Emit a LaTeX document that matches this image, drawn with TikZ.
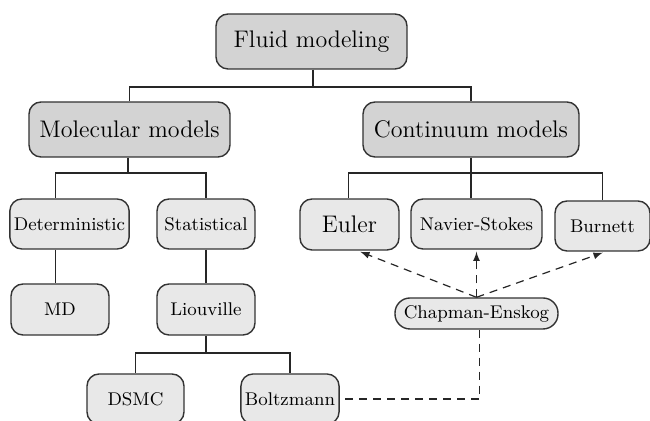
\documentclass[tikz,border=0pt]{standalone}
\usepackage{xcolor}
\usepackage{tikz}

\begin{document}
\begin{tikzpicture}[x = 0.5pt, y = -0.5pt,
  box/.style = {draw = black!80, line width = 0.7pt, rounded corners = 6pt, inner sep = 2pt},
  bigBox/.style = {box, fill = midGray, font = \fontsize{12}{14}\selectfont},
  smallBox/.style = {box, fill = lightGray, font = \fontsize{9.2}{11}\selectfont},
  treeLine/.style = {draw = black!85, line width = 0.6pt},
  dashLine/.style = {draw = black!85, line width = 0.6pt, dash pattern = on 4pt off 3pt}]
  \definecolor{midGray}{RGB}{211, 211, 211};
  \definecolor{lightGray}{RGB}{232, 232, 232};
  \useasboundingbox (0, 0) rectangle (650, 421);

  \node[bigBox, minimum width = 95.5pt, minimum height = 27.5pt] (fluid) at (311.5, 41.5) {Fluid modeling};
  \node[bigBox, minimum width = 100.5pt, minimum height = 27.5pt] (mol) at (129.5, 129.5) {Molecular models};
  \node[bigBox, minimum width = 108pt, minimum height = 27.5pt] (cont) at (471, 129.5) {Continuum models};

  \node[smallBox, minimum width = 59.5pt, minimum height = 25pt] (det) at (69.5, 224) {Deterministic};
  \node[smallBox, minimum width = 49pt, minimum height = 25pt] (stat) at (206, 224) {Statistical};
  \node[smallBox, minimum width = 49pt, minimum height = 25.5pt] (md) at (60, 309.5) {MD};
  \node[smallBox, minimum width = 49pt, minimum height = 25.5pt] (liou) at (206, 309.5) {Liouville};
  \node[smallBox, minimum width = 48.5pt, minimum height = 25pt] (dsmc) at (135.5, 399) {DSMC};
  \node[smallBox, minimum width = 49pt, minimum height = 25pt] (boltz) at (290, 399) {Boltzmann};

  \node[smallBox, font = \fontsize{12}{14}\selectfont, minimum width = 49.5pt, minimum height = 25.5pt] (euler) at (349.5, 224.5) {Euler};
  \node[smallBox, minimum width = 65.5pt, minimum height = 25pt] (ns) at (476.5, 224) {Navier-Stokes};
  \node[smallBox, minimum width = 47.5pt, minimum height = 25pt] (burn) at (602.5, 226) {Burnett};
  \node[smallBox, rounded corners = 7.5pt, minimum width = 81.5pt, minimum height = 15.5pt] (ce) at (476.5, 313.5) {Chapman-Enskog};

  \coordinate (topJoin) at (313, 87);
  \coordinate (molJoin) at (128, 173);
  \coordinate (contJoin) at (471, 173);
  \coordinate (liouJoin) at (206, 353);

  \draw[treeLine] (fluid.south -| topJoin) -- (topJoin) -| (mol.north);
  \draw[treeLine] (topJoin) -| (cont.north);
  \draw[treeLine] (mol.south -| molJoin) -- (molJoin) -| ([xshift = -7pt]det.north);
  \draw[treeLine] (molJoin) -| (stat.north);
  \draw[treeLine] ([xshift = -7pt]det.south) -- ([xshift = -7pt]det.south |- md.north);
  \draw[treeLine] (stat.south) -- (liou.north);
  \draw[treeLine] (liou.south) -- (liouJoin) -| (dsmc.north);
  \draw[treeLine] (liouJoin) -| (boltz.north);
  \draw[treeLine] (cont.south) -- (contJoin) -| ([xshift = -0.5pt]euler.north);
  \draw[treeLine] (contJoin) -| (burn.north);
  \draw[treeLine] (contJoin) -- (contJoin |- ns.north);

  \draw[dashLine, -latex, shorten > = 1.5pt] (ce.north) -- ([xshift = 4pt]euler.south);
  \draw[dashLine, -latex, shorten > = 1pt] (ce.north) -- (ce.north |- ns.south);
  \draw[dashLine, -latex, shorten > = 1.5pt] (ce.north) -- ([xshift = 1.5pt]burn.south);
  \draw[dashLine] ([xshift = 1.5pt]ce.south) |- (boltz.east);
\end{tikzpicture}
\end{document}
